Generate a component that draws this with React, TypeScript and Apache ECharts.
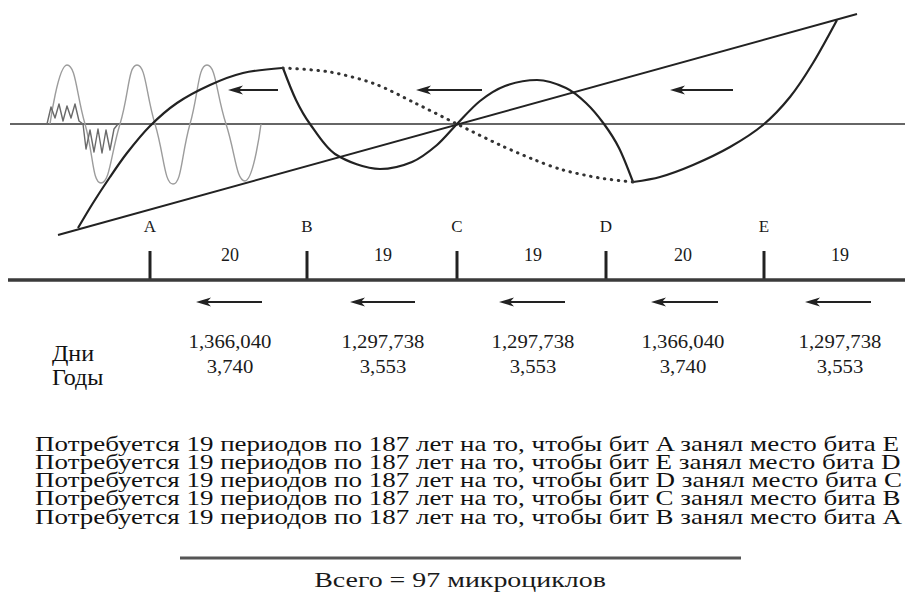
import React, { useEffect, useRef } from "react";
import * as echarts from "echarts";

// ---- data (diagram coordinates: x to the right, y downward) ----
const bitLetters = ["A", "B", "C", "D", "E"];
const bitX = [150, 307, 457, 606, 764];
const segmentCounts = ["20", "19", "19", "20", "19"];
const segmentX = [230, 383, 533, 683, 840];
const daysValues = ["1,366,040", "1,297,738", "1,297,738", "1,366,040", "1,297,738"];
const yearsValues = ["3,740", "3,553", "3,553", "3,740", "3,553"];
const rowLabels = ["Дни", "Годы"];
const statements = [
  "Потребуется 19 периодов по 187 лет на то, чтобы бит A занял место бита E",
  "Потребуется 19 периодов по 187 лет на то, чтобы бит E занял место бита D",
  "Потребуется 19 периодов по 187 лет на то, чтобы бит D занял место бита C",
  "Потребуется 19 периодов по 187 лет на то, чтобы бит C занял место бита B",
  "Потребуется 19 периодов по 187 лет на то, чтобы бит B занял место бита A",
];
const totalText = "Всего = 97 микроциклов";

// curves
const sineWave = [
  [50, 124], [67, 65], [85, 124], [101, 183], [120, 124], [137, 65], [155, 124],
  [173, 184], [190, 124], [207, 65], [226, 124], [245, 181], [261, 124],
];
const smallWaveUp = [
  [47, 124], [51, 107], [55, 118], [59, 104], [63, 121], [67, 106], [71, 118], [75, 104], [79, 121], [83, 124],
];
const smallWaveDown = [
  [83, 124], [86, 149], [90, 130], [94, 152], [98, 129], [102, 153], [106, 130], [110, 150], [114, 129], [118, 124],
];
const riseCurve = [
  [78, 228], [93, 203], [110, 177], [127, 153], [150, 126], [177, 103], [210, 85], [243, 73], [282, 68],
];
const sCurve = [
  [283, 68], [296, 100], [310, 124], [335, 154], [380, 169], [412, 162], [437, 145], [457, 124],
  [480, 101], [505, 86], [537, 80], [566, 88], [586, 103], [604, 124], [619, 148], [633, 182],
];
const finalCurve = [
  [633, 182], [660, 177], [693, 165], [730, 147], [763, 125], [790, 97], [813, 63], [837, 20],
];
const dottedCurve = [
  [283, 68], [330, 72], [375, 84], [415, 103], [457, 124], [500, 145], [535, 160], [563, 170], [600, 178], [633, 182],
];
const diagonalLine = [[58, 235], [857, 14]];
const upperAxis = [[10, 124], [905, 124]];
const lowerAxis = [[8, 280], [905, 280]];
// arrows: [tail x, y, head x]
const topArrows = [[278, 90, 228], [482, 90, 416], [733, 90, 670]];
const bottomArrows = [[262, 302, 196], [415, 302, 350], [565, 302, 499], [718, 302, 651], [871, 302, 805]];

const SERIF = "Liberation Serif, serif";

function measure(text: string, size: number, weight = "normal") {
  const ctx = document.createElement("canvas").getContext("2d")!;
  ctx.font = `${weight} ${size}px "Liberation Serif"`;
  return ctx.measureText(text).width;
}

function lineSeries(data: number[][], width: number, color: string, smooth: number | boolean, type: any = "solid", cap = "butt") {
  return {
    type: "line",
    data,
    smooth,
    showSymbol: false,
    symbol: "none",
    silent: true,
    lineStyle: { width, color, type, cap, join: "round" },
  };
}

function textSeries(
  pts: number[][],
  texts: string[],
  size: number,
  opts: { align?: string; weight?: string; fill?: string; scaleX?: number[] } = {}
) {
  return {
    type: "custom",
    coordinateSystem: "cartesian2d",
    silent: true,
    clip: false,
    data: pts,
    renderItem: (params: any, api: any) => {
      const p = api.coord([api.value(0), api.value(1)]);
      const i = params.dataIndex;
      return {
        type: "text",
        x: p[0],
        y: p[1],
        scaleX: opts.scaleX ? opts.scaleX[i] : 1,
        style: {
          text: texts[i],
          fontFamily: SERIF,
          fontSize: size,
          fontWeight: opts.weight || "normal",
          fill: opts.fill || "#1a1a1a",
          align: opts.align || "center",
          verticalAlign: "middle",
        },
      };
    },
  };
}

function arrowSeries(data: number[][]) {
  return {
    type: "custom",
    coordinateSystem: "cartesian2d",
    silent: true,
    clip: false,
    data,
    encode: { x: [0, 2], y: 1 },
    renderItem: (params: any, api: any) => {
      const a = api.coord([api.value(0), api.value(1)]);
      const b = api.coord([api.value(2), api.value(1)]);
      const L = 15, W = 4.5;
      return {
        type: "group",
        children: [
          { type: "line", shape: { x1: a[0], y1: a[1], x2: b[0] + L - 4, y2: b[1] }, style: { stroke: "#222", lineWidth: 2 } },
          {
            type: "polygon",
            shape: { points: [[b[0], b[1]], [b[0] + L, b[1] - W], [b[0] + L - 4, b[1]], [b[0] + L, b[1] + W]] },
            style: { fill: "#222" },
          },
        ],
      };
    },
  };
}

function tickSeries(xs: number[], top: number, bottom: number) {
  return {
    type: "custom",
    coordinateSystem: "cartesian2d",
    silent: true,
    clip: false,
    data: xs.map((x) => [x, top, bottom]),
    encode: { x: 0, y: [1, 2] },
    renderItem: (params: any, api: any) => {
      const a = api.coord([api.value(0), api.value(1)]);
      const b = api.coord([api.value(0), api.value(2)]);
      return { type: "line", shape: { x1: a[0], y1: a[1], x2: b[0], y2: b[1] }, style: { stroke: "#222", lineWidth: 3 } };
    },
  };
}

export default function App() {
  const ref = useRef<HTMLDivElement>(null);
  useEffect(() => {
    if (!ref.current) return;
    const chart = echarts.init(ref.current, undefined, { renderer: "svg" });

    const stmtSize = 22;
    const stmtScale = 866 / measure(statements[0], stmtSize);
    const totalSize = 22;
    const totalScale = 292 / measure(totalText, totalSize);
    const daysSize = 18;
    const daysScale = 83 / measure(daysValues[0], daysSize);

    const stmtY = [443, 461.3, 479.6, 497.9, 516.2];
    const stmtPts = stmtY.map((y) => [35, y]);

    chart.setOption({
      animation: false,
      backgroundColor: "#ffffff",
      grid: { left: 0, right: 0, top: 0, bottom: 0 },
      xAxis: { type: "value", min: 0, max: 905, show: false },
      yAxis: { type: "value", min: 0, max: 607, inverse: true, show: false },
      series: [
        lineSeries(upperAxis, 1.6, "#333", false),
        lineSeries(sineWave, 1.4, "#9c9c9c", 0.5),
        lineSeries(smallWaveUp, 1.4, "#6a6a6a", false),
        lineSeries(smallWaveDown, 1.4, "#6a6a6a", false),
        lineSeries(diagonalLine, 2, "#222", false),
        lineSeries(riseCurve, 2.2, "#222", 0.3),
        lineSeries(sCurve, 2.2, "#222", 0.3),
        lineSeries(finalCurve, 2.2, "#222", 0.3),
        lineSeries(dottedCurve, 3, "#333", 0.3, [0.5, 6.5], "round"),
        lineSeries(lowerAxis, 3.5, "#3a3a3a", false),
        tickSeries(bitX, 251, 280),
        arrowSeries(topArrows),
        arrowSeries(bottomArrows),
        textSeries(bitX.map((x) => [x, 226]), bitLetters, 17),
        textSeries(segmentX.map((x) => [x, 255]), segmentCounts, 18),
        textSeries(segmentX.map((x) => [x, 342]), daysValues, daysSize, { scaleX: daysValues.map(() => daysScale) }),
        textSeries(segmentX.map((x) => [x, 367]), yearsValues, daysSize, { scaleX: yearsValues.map(() => daysScale) }),
        textSeries([[52, 353], [52, 377]], rowLabels, 24, { align: "left", fill: "#111" }),
        textSeries(stmtPts, statements, stmtSize, { align: "left", scaleX: statements.map(() => stmtScale), fill: "#111" }),
        lineSeries([[180, 558], [741, 558]], 3, "#555", false),
        textSeries([[460, 580]], [totalText], totalSize, { scaleX: [totalScale], fill: "#1a1a1a" }),
      ],
    });
    return () => chart.dispose();
  }, []);
  return <div ref={ref} style={{ position: "absolute", left: 0, top: 0, width: 905, height: 607 }} />;
}
